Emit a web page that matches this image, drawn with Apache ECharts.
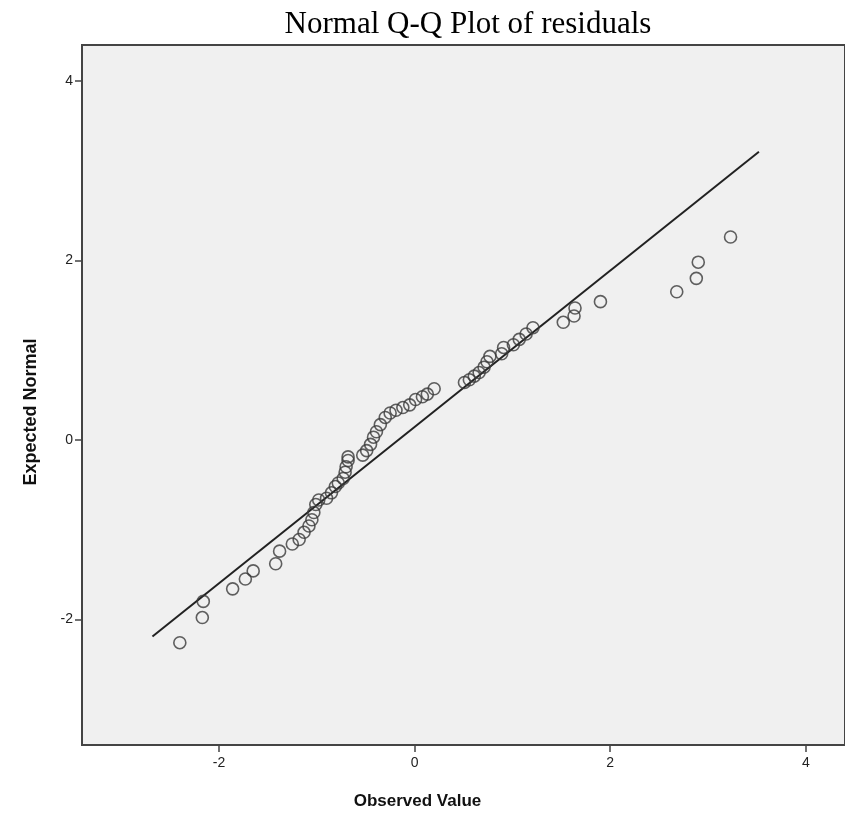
<!DOCTYPE html>
<html>
<head>
<meta charset="utf-8">
<script src="https://cdn.jsdelivr.net/npm/echarts@6/dist/echarts.min.js"></script>
<style>
  html, body { margin: 0; padding: 0; background: #fff; }
  #chart { width: 845px; height: 820px; }
</style>
</head>
<body>
<div id="chart"></div>
<script>
// observed residuals (x) and their expected normal quantiles (y)
var observed = [
  -2.40, -2.17, -2.16, -1.86, -1.73, -1.65, -1.42, -1.38, -1.25, -1.18,
  -1.13, -1.08, -1.05, -1.03, -1.01, -0.98, -0.90, -0.85, -0.81, -0.78,
  -0.73, -0.71, -0.70, -0.68, -0.68, -0.53, -0.49, -0.45, -0.42, -0.39,
  -0.35, -0.30, -0.25, -0.19, -0.12, -0.05, 0.01, 0.08, 0.13, 0.20,
  0.51, 0.56, 0.61, 0.66, 0.71, 0.74, 0.77, 0.89, 0.91, 1.01,
  1.07, 1.14, 1.21, 1.52, 1.63, 1.64, 1.90, 2.68, 2.88, 2.90, 3.23
];
var expected = [
  -2.26, -1.98, -1.80, -1.66, -1.55, -1.46, -1.38, -1.24, -1.16, -1.11,
  -1.03, -0.96, -0.89, -0.81, -0.72, -0.67, -0.65, -0.59, -0.52, -0.48,
  -0.43, -0.36, -0.30, -0.23, -0.19, -0.17, -0.12, -0.05, 0.03, 0.09,
  0.17, 0.25, 0.30, 0.33, 0.36, 0.39, 0.45, 0.48, 0.51, 0.57,
  0.64, 0.67, 0.71, 0.75, 0.81, 0.87, 0.93, 0.96, 1.03, 1.06,
  1.12, 1.18, 1.25, 1.31, 1.38, 1.47, 1.54, 1.65, 1.80, 1.98, 2.26
];
// reference line end points
var lineX = [-2.68, 3.52];
var lineY = [-2.19, 3.21];
var xTicks = [-2, 0, 2, 4];
var yTicks = [-2, 0, 2, 4];

var points = [];
for (var i = 0; i < observed.length; i++) {
  points.push([observed[i], expected[i]]);
}
var linePts = [[lineX[0], lineY[0]], [lineX[1], lineY[1]]];

var tickLabel = {
  fontFamily: 'Liberation Sans',
  fontSize: 14,
  color: '#222'
};

var option = {
  animation: false,
  backgroundColor: '#fff',
  title: {
    text: 'Normal Q-Q Plot of residuals',
    left: 463,
    top: 4,
    textAlign: 'center',
    textStyle: {
      fontFamily: 'Liberation Serif',
      fontWeight: 'normal',
      fontSize: 31,
      color: '#000'
    }
  },
  grid: {
    left: 82,
    top: 45,
    width: 770,
    height: 700,
    show: true,
    backgroundColor: '#f0f0f0',
    borderColor: '#444',
    borderWidth: 2
  },
  xAxis: {
    type: 'value',
    min: -3.4,
    max: 4.4,
    name: 'Observed Value',
    nameLocation: 'middle',
    nameGap: 48,
    nameTextStyle: {
      fontFamily: 'Liberation Sans',
      fontWeight: 'bold',
      fontSize: 17,
      color: '#111',
      padding: [0, 92, 0, 0]
    },
    axisLine: { show: true, onZero: false, lineStyle: { color: '#444', width: 2 } },
    axisTick: { show: true, length: 7, customValues: xTicks, lineStyle: { color: '#444', width: 1.5 } },
    axisLabel: Object.assign({ customValues: xTicks, margin: 11 }, tickLabel),
    splitLine: { show: false }
  },
  yAxis: {
    type: 'value',
    min: -3.4,
    max: 4.4,
    name: 'Expected Normal',
    nameLocation: 'middle',
    nameGap: 42,
    nameTextStyle: {
      fontFamily: 'Liberation Sans',
      fontWeight: 'bold',
      fontSize: 18,
      color: '#111',
      padding: [0, 34, 0, 0]
    },
    axisLine: { show: true, onZero: false, lineStyle: { color: '#444', width: 2 } },
    axisTick: { show: true, length: 7, customValues: yTicks, lineStyle: { color: '#444', width: 1.5 } },
    axisLabel: Object.assign({ customValues: yTicks, margin: 9 }, tickLabel),
    splitLine: { show: false }
  },
  series: [
    {
      type: 'line',
      data: linePts,
      symbol: 'none',
      lineStyle: { color: '#222', width: 2 },
      z: 2
    },
    {
      type: 'scatter',
      data: points,
      symbol: 'circle',
      symbolSize: 12,
      itemStyle: {
        color: 'rgba(0,0,0,0)',
        borderColor: '#3a3a3a',
        borderWidth: 1.6
      },
      z: 3
    }
  ]
};

var myChart = echarts.init(document.getElementById('chart'));
myChart.setOption(option);
</script>
</body>
</html>
